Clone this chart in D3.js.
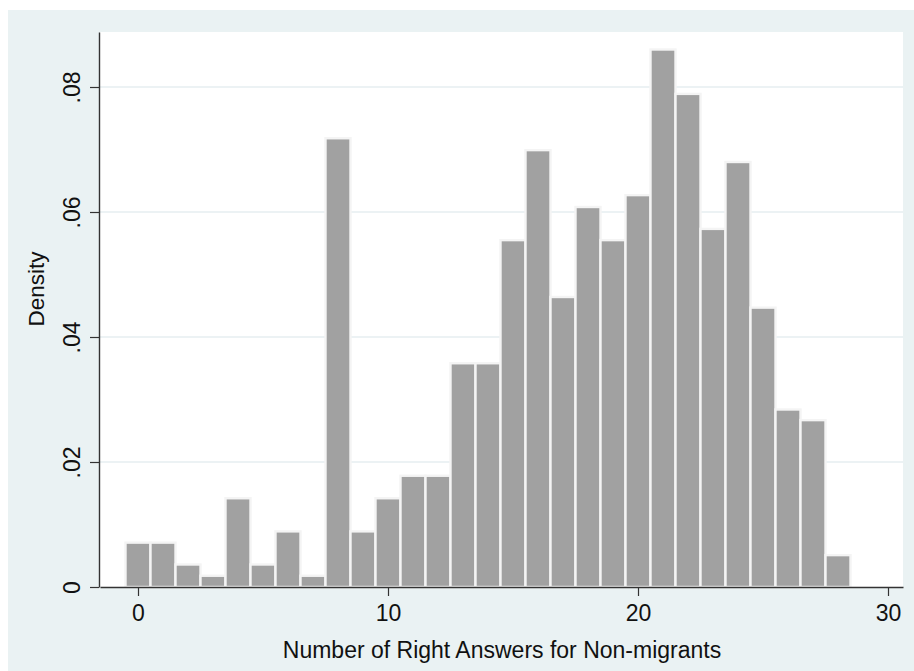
<!DOCTYPE html>
<html>
<head>
<meta charset="utf-8">
<script src="https://cdn.jsdelivr.net/npm/d3@7"></script>
<style>
  html, body { margin: 0; padding: 0; background: #ffffff; }
  svg { display: block; }
  text { font-family: "Liberation Sans", Arial, Helvetica, sans-serif; fill: #111; }
</style>
</head>
<body>
<svg id="chart" width="914" height="671"></svg>
<script>
// ---- data ----
const scores = [0,1,2,3,4,5,6,7,8,9,10,11,12,13,14,15,16,17,18,19,20,21,22,23,24,25,26,27,28];
const density = [0.0071,0.0071,0.0036,0.0018,0.0142,0.0036,0.0089,0.0018,0.0718,0.0089,
                 0.0142,0.0178,0.0178,0.0358,0.0358,0.0555,0.0699,0.0464,0.0608,0.0555,
                 0.0627,0.0860,0.0789,0.0573,0.0680,0.0447,0.0284,0.0267,0.0051];
const xTicks = [0,10,20,30];
const yTicks = [0,0.02,0.04,0.06,0.08];
const yTickLabels = ["0",".02",".04",".06",".08"];
const xTitle = "Number of Right Answers for Non-migrants";
const yTitle = "Density";

// ---- layout ----
const svg = d3.select("#chart");
const plot = {left: 100, right: 903, top: 32, bottom: 587};

svg.append("rect").attr("x", 8).attr("y", 10).attr("width", 906).attr("height", 661)
  .attr("fill", "#EAF2F3");
svg.append("rect").attr("x", plot.left).attr("y", plot.top)
  .attr("width", plot.right - plot.left).attr("height", plot.bottom - plot.top)
  .attr("fill", "#ffffff");

const x = d3.scaleLinear().domain([-1.52, 30.6]).range([plot.left, plot.right]);
const y = d3.scaleLinear().domain([0, 0.0888]).range([plot.bottom, plot.top]);

// gridlines
svg.append("g").selectAll("line").data(yTicks.filter(d => d > 0)).join("line")
  .attr("x1", plot.left).attr("x2", plot.right)
  .attr("y1", d => y(d)).attr("y2", d => y(d))
  .attr("stroke", "#E6EEF0").attr("stroke-width", 1.3);

// bars
const data = scores.map((s, i) => ({s, v: density[i]}));
svg.append("g").selectAll("rect").data(data).join("rect")
  .attr("x", d => x(d.s - 0.5))
  .attr("width", d => x(d.s + 0.5) - x(d.s - 0.5))
  .attr("y", d => y(d.v))
  .attr("height", d => y(0) - y(d.v))
  .attr("fill", "#A1A1A1")
  .attr("stroke", "#F4F4F4")
  .attr("stroke-width", 2.4);

// axes
const axisColor = "#333333";
const fs = "23px";
const gx = svg.append("g").attr("transform", `translate(0,${plot.bottom})`)
  .call(d3.axisBottom(x).tickValues(xTicks).tickSize(9).tickSizeOuter(0).tickFormat(d3.format("d")));
gx.select(".domain").attr("stroke", axisColor).attr("stroke-width", 1.4);
gx.selectAll(".tick line").attr("stroke", axisColor).attr("stroke-width", 1.2);
gx.selectAll(".tick text").attr("y", 34).attr("dy", null)
  .style("font-size", fs).attr("fill", "#111");

const gy = svg.append("g").attr("transform", `translate(${plot.left - 1},0)`)
  .call(d3.axisLeft(y).tickValues(yTicks).tickSize(9).tickSizeOuter(0)
    .tickFormat((d, i) => yTickLabels[i]));
gy.select(".domain").attr("stroke", axisColor).attr("stroke-width", 1.4);
gy.selectAll(".tick line").attr("stroke", axisColor).attr("stroke-width", 1.2);
gy.selectAll(".tick text")
  .attr("x", null).attr("dy", null)
  .attr("text-anchor", "middle")
  .attr("transform", "translate(-19,0) rotate(-90)")
  .style("font-size", fs).attr("fill", "#111");

// titles
svg.append("text").attr("x", 502).attr("y", 658)
  .attr("text-anchor", "middle").style("font-size", fs).text(xTitle);
svg.append("text").attr("transform", "translate(44,289) rotate(-90)")
  .attr("text-anchor", "middle").style("font-size", "22.5px").text(yTitle);
</script>
</body>
</html>
